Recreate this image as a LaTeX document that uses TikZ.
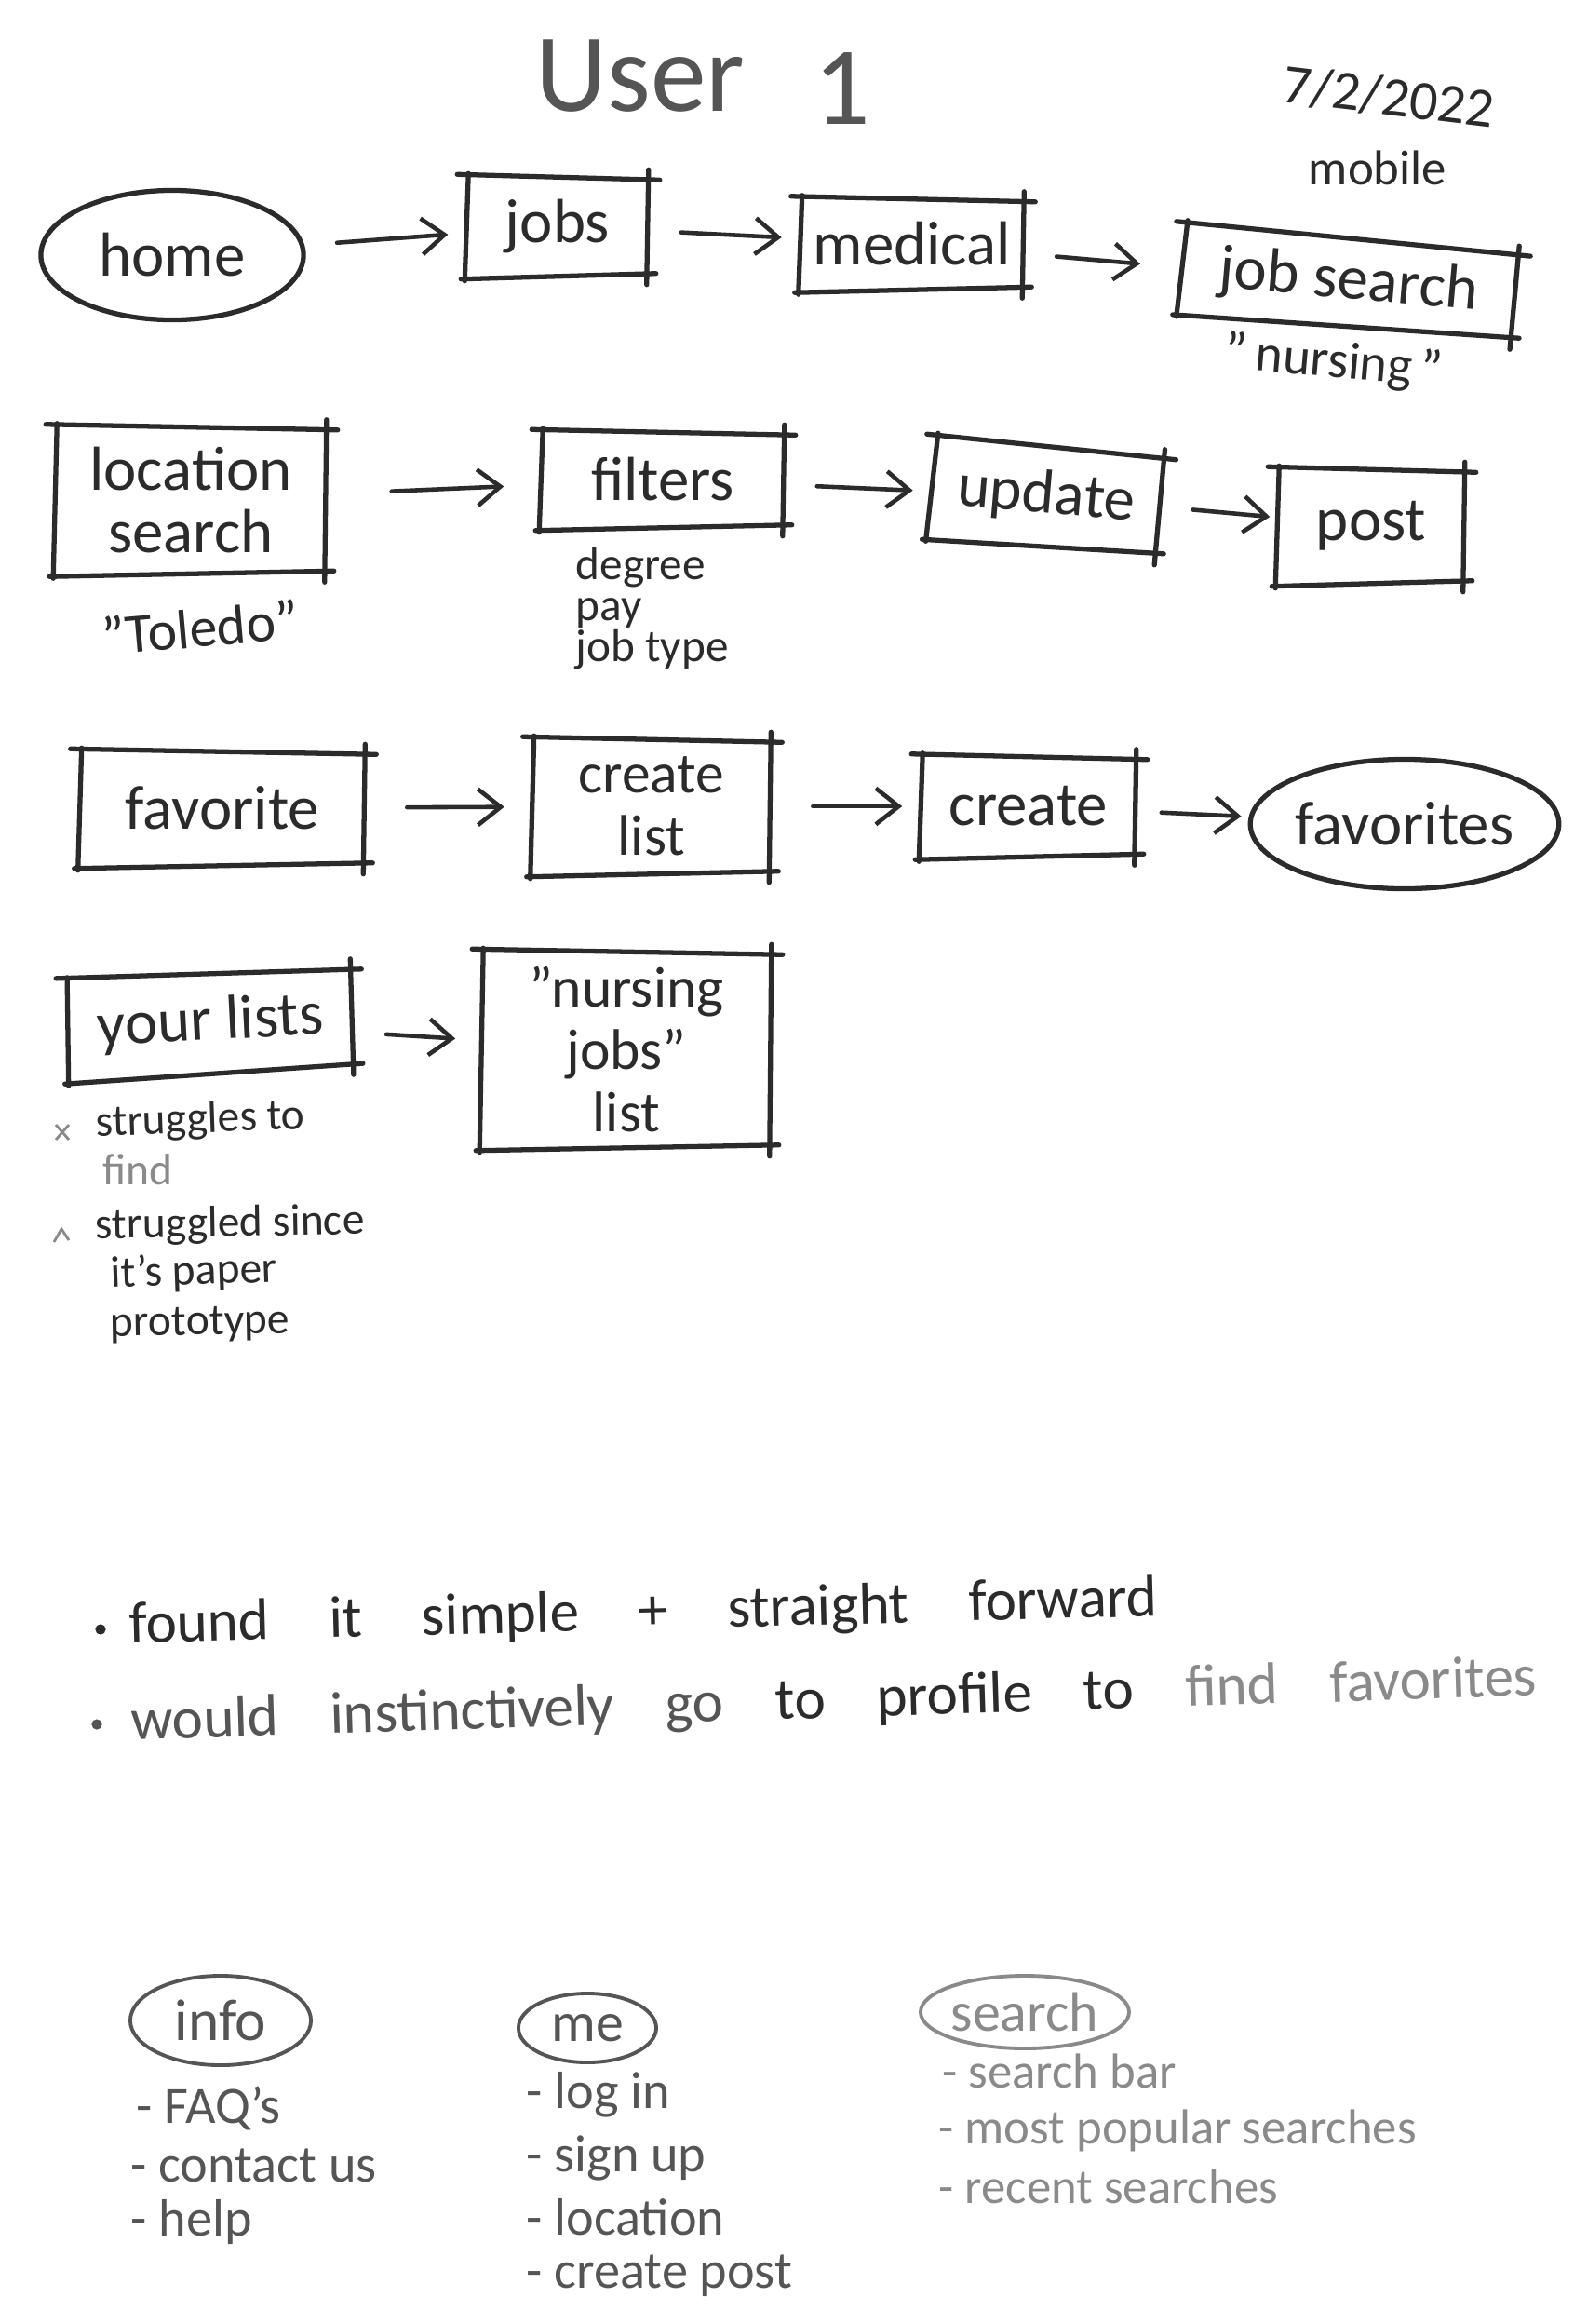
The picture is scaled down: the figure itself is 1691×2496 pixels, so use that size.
\documentclass[tikz,border=0pt]{standalone}
\usepackage{fontspec}
\setmainfont{Carlito}
\usetikzlibrary{arrows.meta,shapes.geometric}
\definecolor{ink}{HTML}{2B2B2B}
\definecolor{inkl}{HTML}{555555}
\definecolor{inkf}{HTML}{8A8A8A}
\newcommand\skbox[1]{%
  \draw[skl] ([shift={(-10,-3)}]#1.north west) -- ([shift={(12,3)}]#1.north east);
  \draw[skl] ([shift={(0,-8)}]#1.north east) -- ([shift={(-2,10)}]#1.south east);
  \draw[skl] ([shift={(-6,4)}]#1.south west) -- ([shift={(8,-2)}]#1.south east);
  \draw[skl] ([shift={(2,-4)}]#1.north west) -- ([shift={(-2,6)}]#1.south west);
}
\begin{document}
\begin{tikzpicture}[x=0.01cm,y=-0.01cm,
  skl/.style={draw=ink, line width=1.5pt, line cap=round, line join=round},
  bx/.style={inner sep=0pt, text=ink, font=\fontsize{19}{20}\selectfont, align=center},
  ov/.style={ellipse, draw=ink, line width=1.5pt, inner sep=0pt, text=ink, font=\fontsize{19}{20}\selectfont},
  arr/.style={draw=ink, line width=1.3pt, line cap=round, -{Straight Barb[length=7pt,width=11pt]}, shorten <=0.35cm, shorten >=0.2cm},
  lbl/.style={inner sep=0pt, text=ink},
  li/.style={inner sep=0pt, anchor=west, text=inkl, font=\fontsize{16}{18}\selectfont},
]
\fill[white] (0,0) rectangle (1691,2496);
\useasboundingbox (0,0) rectangle (1691,2496);

% title
\node[lbl, text=inkl, font=\fontsize{34}{36}\selectfont] (user) at (688,82) {User};
\node[lbl, text=inkl, font=\fontsize{34}{36}\selectfont] (one) at (905,95) {1};
\node[lbl, rotate=-7, font=\fontsize{17}{18}\selectfont] (date) at (1492,104) {7/2/2022};
\node[lbl, font=\fontsize{15}{16}\selectfont] (mobile) at (1480,180) {mobile};

% row 1
\node[ov, minimum width=2.82cm, minimum height=1.39cm] (home) at (185,274) {home};
\node[bx, minimum width=1.94cm, minimum height=1.04cm] (jobs) at (599,243) {jobs};
\node[bx, minimum width=2.39cm, minimum height=0.95cm] (medical) at (980,262) {medical};
\node[bx, rotate=-5, minimum width=3.58cm, minimum height=0.92cm] (jsearch) at (1449,303) {job search};
\node[lbl, rotate=-5, font=\fontsize{16}{18}\selectfont] (nursing) at (1433,390) {"\,nursing\,"};

% row 2
\node[bx, minimum width=2.9cm, minimum height=1.55cm, font=\fontsize{19}{19}\selectfont] (loc) at (205,537) {location\\search};
\node[lbl, rotate=5, font=\fontsize{17}{18}\selectfont] (toledo) at (215,674) {"Toledo"};
\node[bx, minimum width=2.6cm, minimum height=1.0cm] (filters) at (712,515) {filters};
\node[lbl, anchor=north west, align=left, font=\fontsize{14}{12.5}\selectfont] (flist) at (618,588) {degree\\pay\\job type};
\node[bx, rotate=-5, minimum width=2.45cm, minimum height=1.05cm] (update) at (1124,533) {update};
\node[bx, minimum width=2.0cm, minimum height=1.2cm] (post) at (1473,565) {post};

% row 3
\node[bx, minimum width=3.05cm, minimum height=1.2cm] (fav) at (239,868) {favorite};
\node[bx, minimum width=2.55cm, minimum height=1.42cm, font=\fontsize{17.5}{19}\selectfont] (clist) at (700,866) {create\\list};
\node[bx, minimum width=2.3cm, minimum height=1.05cm] (create) at (1105,866) {create};
\node[ov, minimum width=2.95cm, minimum height=1.39cm] (favs) at (1509,885) {favorites};

% row 4
\node[bx, rotate=3, minimum width=3.05cm, minimum height=1.05cm] (ylists) at (226,1099) {your lists};
\node[bx, minimum width=3.1cm, minimum height=2.08cm, font=\fontsize{17.5}{19}\selectfont] (njl) at (673,1127) {"nursing\\jobs"\\list};

\foreach \b in {jobs,medical,jsearch,loc,filters,update,post,fav,clist,create,ylists,njl} {\skbox{\b}}

% arrows
\draw[arr] (home) -- (jobs);
\draw[arr] (jobs) -- (medical);
\draw[arr, shorten >=0.45cm] (medical) -- (jsearch);
\draw[arr, shorten <=0.7cm, shorten >=0.4cm] (loc) -- (filters);
\draw[arr] (filters) -- (update);
\draw[arr, shorten >=0.08cm] (update) -- (post);
\draw[arr, shorten <=0.45cm, shorten >=0.3cm] (fav) -- (clist);
\draw[arr, shorten <=0.45cm] (clist) -- (create);
\draw[arr, shorten <=0.27cm, shorten >=0.08cm] (create) -- (favs);
\draw[arr, shorten >=0.28cm] (ylists) -- (njl);

% notes under your lists
\begin{scope}[every node/.style={lbl, anchor=west, font=\fontsize{13.5}{15}\selectfont}]
\node[rotate=2] (n1) at (102,1208) {struggles to};
\node[text=inkf] (n2) at (110,1256) {find};
\node[rotate=1] (n3) at (102,1318) {struggled since};
\node[rotate=2] (n4) at (118,1370) {it's paper};
\node[rotate=1] (n5) at (118,1424) {prototype};
\end{scope}
\draw[inkf, line width=0.8pt] (60,1208) -- (74,1224) (74,1208) -- (60,1224);
\draw[inkf, line width=0.8pt] (58,1334) -- (66,1320) -- (74,1332);

% general notes
\fill[ink] (108,1750) circle (1.6pt);
\fill[inkl] (104,1852) circle (1.6pt);
\node[lbl, anchor=west, rotate=1.5, font=\fontsize{18}{20}\selectfont] (note1) at (138,1748)
  {\makebox[11.05cm][s]{found it simple + straight forward}};
\node[lbl, anchor=west, rotate=1.8, font=\fontsize{18}{20}\selectfont] (note2) at (140,1852)
  {\makebox[15.1cm][s]{\color{inkl}would instinctively go \color{ink}to profile to \color{inkf}find favorites}};

% bottom sections
\node[ov, draw=inkl, text=inkl, line width=1.1pt, minimum width=1.94cm, minimum height=0.96cm, font=\fontsize{18}{20}\selectfont] (info) at (237,2170) {info};
\node[ov, draw=inkl, text=inkl, line width=1.1pt, minimum width=1.48cm, minimum height=0.74cm, font=\fontsize{17}{20}\selectfont] (me) at (631,2178) {me};
\node[ov, draw=inkf, text=inkf, line width=1.1pt, minimum width=2.18cm, minimum height=0.78cm, font=\fontsize{17}{20}\selectfont] (search) at (1101,2161) {search};

\node[li] (faq) at (146,2264) {- FAQ's};
\node[li] (contact) at (140,2326) {- contact us};
\node[li] (help) at (140,2386) {- help};
\node[li] (login) at (565,2250) {- log in};
\node[li] (signup) at (565,2318) {- sign up};
\node[li] (location) at (565,2381) {- location};
\node[li] (cpost) at (565,2444) {- create post};
\node[li, text=inkf, font=\fontsize{15}{17}\selectfont] (sbar) at (1012,2224) {- search bar};
\node[li, text=inkf, font=\fontsize{15}{17}\selectfont] (popular) at (1008,2288) {- most popular searches};
\node[li, text=inkf, font=\fontsize{15}{17}\selectfont] (recent) at (1008,2348) {- recent searches};
\end{tikzpicture}
\end{document}
